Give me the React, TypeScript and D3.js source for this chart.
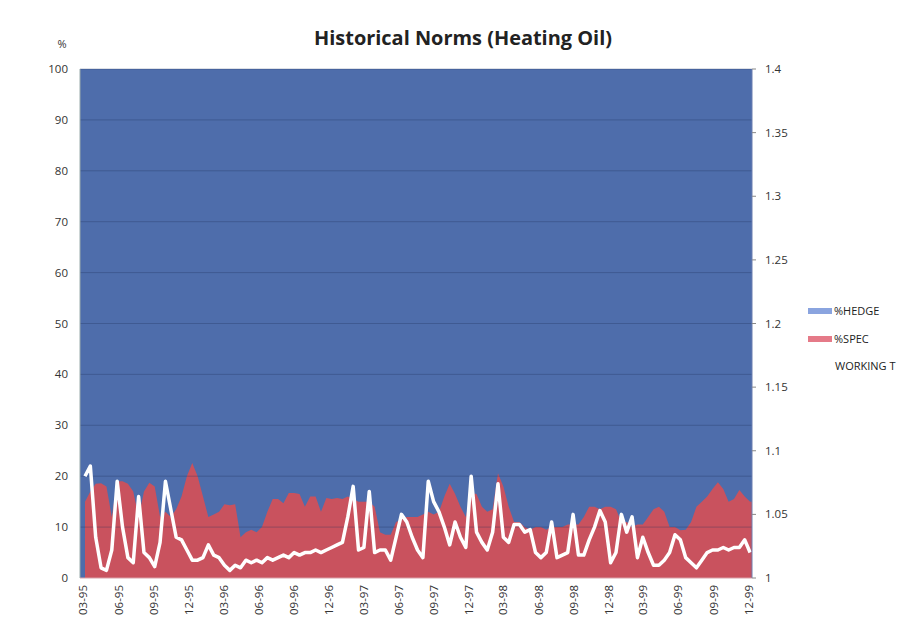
import React from "react";
import * as d3 from "d3";

// Biweekly observations starting 1995-02-20
const startDate = new Date(1995, 1, 20);
const endDate = new Date(1999, 11, 10);

// %SPEC (left axis, %)
const specValues = [
  15, 17, 18.5, 18.6, 18, 12, 19, 19, 18.5, 17,
  12, 17, 18.7, 18, 12, 13, 12, 13.5, 16, 20,
  22.6, 20, 16, 12, 12.5, 13, 14.5, 14.3, 14.5, 8,
  9, 9.5, 9, 10, 13, 15.5, 15.5, 14.7, 16.7, 16.7,
  16.5, 14, 16, 16, 13, 15.7, 15.5, 15.7, 15.5, 16,
  15.5, 15, 15, 15, 14, 9, 8.5, 8.5, 11, 11.5,
  12, 12, 12, 12.5, 13, 12.5, 13, 16, 18.5, 16.5,
  14, 12, 16.7, 16.5, 14, 13, 13.5, 20.6, 18, 14,
  11, 11, 10, 9.5, 10, 10, 9.5, 10, 10, 10,
  10.5, 10.5, 10.5, 12, 14, 14, 13.5, 14, 14, 13.5,
  11, 11, 10, 10.5, 10.5, 12, 13.5, 14, 13, 10,
  10, 9.4, 9.5, 11, 14, 15, 16, 17.5, 18.8, 17.5,
  15, 15.5, 17.3, 16, 15, 14.5,
];

// WORKING T (right axis)
const workingT = [
  1.080, 1.088, 1.032, 1.008, 1.006, 1.022, 1.076, 1.040, 1.016, 1.012,
  1.064, 1.020, 1.016, 1.009, 1.028, 1.076, 1.054, 1.032, 1.030, 1.022,
  1.014, 1.014, 1.016, 1.026, 1.018, 1.016, 1.010, 1.006, 1.010, 1.008,
  1.014, 1.012, 1.014, 1.012, 1.016, 1.014, 1.016, 1.018, 1.016, 1.020,
  1.018, 1.020, 1.020, 1.022, 1.020, 1.022, 1.024, 1.026, 1.028, 1.048,
  1.072, 1.022, 1.024, 1.068, 1.020, 1.022, 1.022, 1.014, 1.032, 1.050,
  1.044, 1.032, 1.022, 1.016, 1.076, 1.060, 1.052, 1.040, 1.026, 1.044,
  1.032, 1.024, 1.080, 1.036, 1.028, 1.022, 1.036, 1.074, 1.032, 1.028,
  1.042, 1.042, 1.036, 1.038, 1.020, 1.016, 1.020, 1.044, 1.016, 1.018,
  1.020, 1.050, 1.018, 1.018, 1.030, 1.040, 1.053, 1.044, 1.012, 1.020,
  1.050, 1.036, 1.048, 1.016, 1.032, 1.020, 1.010, 1.010, 1.014, 1.020,
  1.034, 1.030, 1.016, 1.012, 1.008, 1.014, 1.020, 1.022, 1.022, 1.024,
  1.022, 1.024, 1.024, 1.030, 1.020, 1.020,
];

const xTickLabels = [
  "03-95", "06-95", "09-95", "12-95", "03-96", "06-96", "09-96", "12-96",
  "03-97", "06-97", "09-97", "12-97", "03-98", "06-98", "09-98", "12-98",
  "03-99", "06-99", "09-99", "12-99",
];
const leftTicks = [0, 10, 20, 30, 40, 50, 60, 70, 80, 90, 100];
const rightTicks = [1, 1.05, 1.1, 1.15, 1.2, 1.25, 1.3, 1.35, 1.4];
const rightTickLabels = ["1", "1.05", "1.1", "1.15", "1.2", "1.25", "1.3", "1.35", "1.4"];

const legendItems = ["%HEDGE", "%SPEC", "WORKING T"];

const W = 907;
const H = 624;
const M = { left: 80, right: 752, top: 69, bottom: 578 };

const BLUE = "#4e6dab";
const RED = "#c9525e";
const FONT = "'Open Sans', 'Noto Sans', sans-serif";

export default function App() {
  const dates = d3.timeWeek.every(2)!.range(startDate, endDate);
  const n = Math.min(dates.length, specValues.length, workingT.length);
  const rows = d3.range(n).map((i) => ({
    date: dates[i],
    spec: specValues[i],
    hedge: 100 - specValues[i],
    wt: workingT[i],
  }));

  const x = d3.scaleTime().domain([startDate, endDate]).range([M.left, M.right]);
  const yL = d3.scaleLinear().domain([0, 100]).range([M.bottom, M.top]);
  const yR = d3.scaleLinear().domain([1, 1.4]).range([M.bottom, M.top]);

  const parse = d3.timeParse("%m-%y");

  const specArea = d3
    .area<any>()
    .x((d) => x(d.date))
    .y0(yL(0))
    .y1((d) => yL(d.spec));
  const wtLine = d3
    .line<any>()
    .x((d) => x(d.date))
    .y((d) => yR(d.wt));

  const x1 = x(rows[n - 1].date);

  return (
    <svg
      width={W}
      height={H}
      style={{ position: "absolute", left: 0, top: 0, background: "#fff" }}
      fontFamily={FONT}
    >
      <rect x={0} y={0} width={W} height={H} fill="#fff" />
      <text
        x={463}
        y={45}
        textAnchor="middle"
        fontSize={19}
        fontWeight="bold"
        fill="#222"
        textLength={298}
        lengthAdjust="spacingAndGlyphs"
      >
        Historical Norms (Heating Oil)
      </text>
      <text x={62} y={48} textAnchor="middle" fontSize={11} fill="#333">
        %
      </text>

      {/* plot background = %HEDGE stacked to 100 */}
      <rect x={M.left} y={M.top} width={M.right - M.left} height={M.bottom - M.top} fill={BLUE} />
      <path d={specArea(rows) || ""} fill={RED} />
      {x1 < M.right && (
        <rect
          x={x1}
          y={yL(rows[n - 1].spec)}
          width={M.right - x1}
          height={M.bottom - yL(rows[n - 1].spec)}
          fill={RED}
        />
      )}

      {/* gridlines */}
      {leftTicks.slice(1).map((t) => (
        <line
          key={"g" + t}
          x1={M.left}
          x2={M.right}
          y1={yL(t)}
          y2={yL(t)}
          stroke="#1f2f5a"
          strokeOpacity={0.3}
          strokeWidth={1}
        />
      ))}

      <path
        d={wtLine(rows) || ""}
        fill="none"
        stroke="#fff"
        strokeWidth={3.5}
        strokeLinejoin="round"
      />

      {/* axes */}
      <line x1={M.left} x2={M.left} y1={M.top} y2={M.bottom} stroke="#9aa" strokeWidth={1} />
      <line x1={M.left} x2={M.right} y1={M.bottom} y2={M.bottom} stroke="#d9a0a8" strokeWidth={1} />
      <line x1={M.right} x2={M.right} y1={M.top} y2={M.bottom} stroke="#6a7fb0" strokeWidth={1} />

      {leftTicks.map((t) => (
        <text key={"l" + t} x={68} y={yL(t) + 4} textAnchor="end" fontSize={11.5} fill="#333">
          {t}
        </text>
      ))}

      {rightTicks.map((t, i) => (
        <g key={"r" + t}>
          <line x1={M.right} x2={M.right + 4} y1={yR(t)} y2={yR(t)} stroke="#888" />
          <text x={765} y={yR(t) + 4} fontSize={11.5} fill="#333">
            {rightTickLabels[i]}
          </text>
        </g>
      ))}

      {xTickLabels.map((lab) => {
        const d = parse(lab)!;
        return (
          <text
            key={"x" + lab}
            transform={`translate(${x(d) + 4},${585}) rotate(-90)`}
            textAnchor="end"
            fontSize={11.5}
            fill="#333"
          >
            {lab}
          </text>
        );
      })}

      {/* legend */}
      <rect x={808} y={308} width={24} height={6} fill="#8aa4df" />
      <text x={834} y={315} fontSize={11} fill="#222">
        {legendItems[0]}
      </text>
      <rect x={808} y={336} width={24} height={6} fill="#e57a88" />
      <text x={834} y={343} fontSize={11} fill="#222">
        {legendItems[1]}
      </text>
      <text x={835} y={370} fontSize={11} fill="#222">
        {legendItems[2]}
      </text>
    </svg>
  );
}
